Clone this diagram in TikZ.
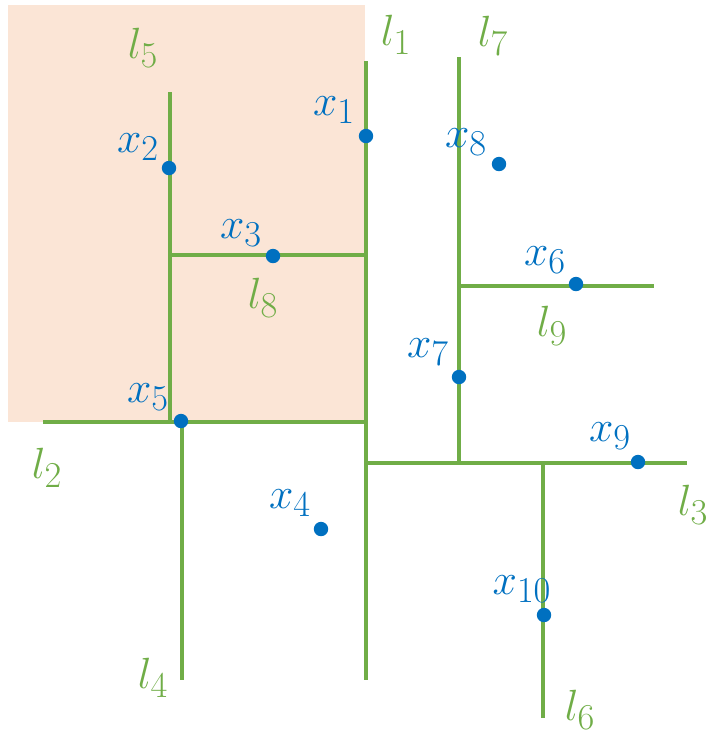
\documentclass[tikz,border=0pt]{standalone}
\usepackage{tikz}
\definecolor{cutgreen}{HTML}{70AD47}
\definecolor{ptblue}{HTML}{0070C0}
\definecolor{regionpeach}{HTML}{FBE5D6}

\tikzset{
  cut/.style={draw=cutgreen, line width=2.1pt},
  pt/.style={fill=ptblue},
  lname/.style={text=cutgreen, font=\fontsize{31}{36}\selectfont},
  pname/.style={text=ptblue, font=\fontsize{31}{36}\selectfont}
}

\begin{document}
\begin{tikzpicture}[x=0.02cm,y=-0.02cm]
    \useasboundingbox (0,0) rectangle (714,738);
    \fill[regionpeach] (8,5) rectangle (365,422);

    % splitting lines
    \draw[cut] (366,61) -- (366,680);
    \draw[cut] (43,422) -- (366,422);
    \draw[cut] (170,92) -- (170,422);
    \draw[cut] (170,255) -- (366,255);
    \draw[cut] (182,422) -- (182,680);
    \draw[cut] (366,463) -- (687,463);
    \draw[cut] (459,57) -- (459,463);
    \draw[cut] (459,286) -- (654,286);
    \draw[cut] (543,463) -- (543,718);

    \node[lname] (l1) at (396,35) {$l_1$};
    \node[lname] (l2) at (47,468) {$l_2$};
    \node[lname] (l3) at (693,505) {$l_3$};
    \node[lname] (l4) at (153,678) {$l_4$};
    \node[lname] (l5) at (143,48) {$l_5$};
    \node[lname] (l6) at (580,710) {$l_6$};
    \node[lname] (l7) at (493,36) {$l_7$};
    \node[lname] (l8) at (263,298) {$l_8$};
    \node[lname] (l9) at (552,326) {$l_9$};

    % data points
    \coordinate (p1) at (366,136);
    \coordinate (p2) at (169,168);
    \coordinate (p3) at (273,256);
    \coordinate (p4) at (321,529);
    \coordinate (p5) at (181,421);
    \coordinate (p6) at (576,284);
    \coordinate (p7) at (459,377);
    \coordinate (p8) at (499,164);
    \coordinate (p9) at (638,462);
    \coordinate (p10) at (544,615);
    \foreach \p in {p1,p2,p3,p4,p5,p6,p7,p8,p9,p10}
      \fill[pt] (\p) circle[radius=4.1pt];

    \node[pname] (x1) at (334,110) {$x_1$};
    \node[pname] (x2) at (138,147) {$x_2$};
    \node[pname] (x3) at (241,233) {$x_3$};
    \node[pname] (x4) at (290,503) {$x_4$};
    \node[pname] (x5) at (148,397) {$x_5$};
    \node[pname] (x6) at (545,260) {$x_6$};
    \node[pname] (x7) at (428,352) {$x_7$};
    \node[pname] (x8) at (466,142) {$x_8$};
    \node[pname] (x9) at (610,436) {$x_9$};
    \node[pname] (x10) at (522,589) {$x_{10}$};
  \end{tikzpicture}
\end{document}
